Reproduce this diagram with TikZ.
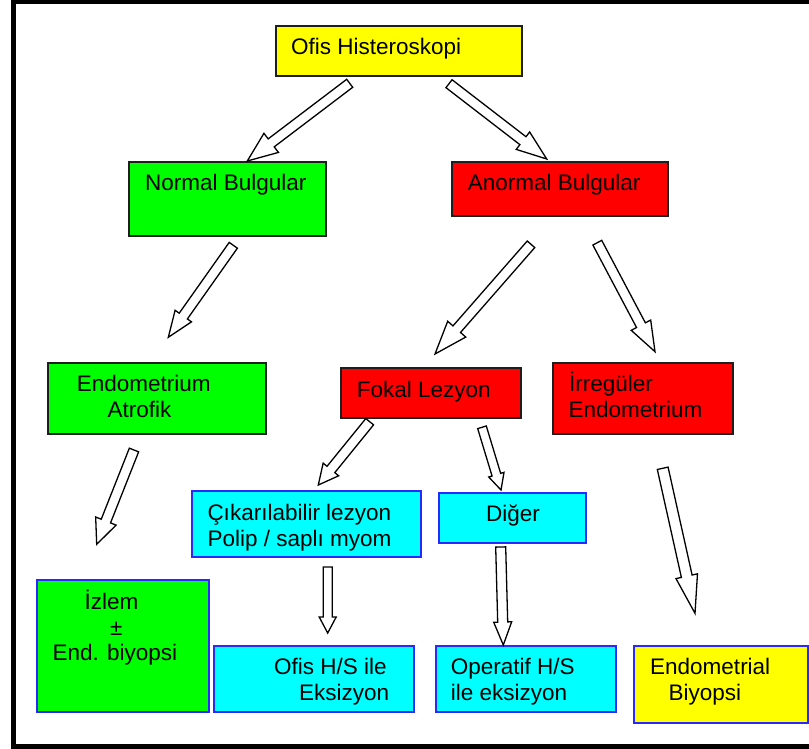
\documentclass[tikz,border=0pt]{standalone}
\usepackage{fontspec}
\setmainfont{Liberation Sans}
\usetikzlibrary{calc}
\definecolor{yel}{RGB}{255,255,0}
\definecolor{grn}{RGB}{0,255,0}
\definecolor{rd}{RGB}{255,0,0}
\definecolor{cyn}{RGB}{0,255,255}
\definecolor{blu}{RGB}{40,40,255}
\definecolor{dk}{RGB}{30,30,30}
% #1 prefix, #2 half shaft width, #3 half head width, #4 head length
\newcommand{\blockarrow}[4]{%
  \coordinate (#1h) at ($(#1e)!#4pt!(#1s)$);
  \draw[blockarrowstyle] ($(#1s)!#2pt!90:(#1e)$) -- ($(#1h)!#2pt!90:(#1e)$) -- ($(#1h)!#3pt!90:(#1e)$) -- (#1e)
    -- ($(#1h)!#3pt!-90:(#1e)$) -- ($(#1h)!#2pt!-90:(#1e)$) -- ($(#1s)!#2pt!-90:(#1e)$) -- cycle;
}
\tikzset{
  boxk/.style={draw=dk, line width=1.5pt, anchor=north west, inner sep=0pt, outer sep=0pt},
  boxb/.style={draw=blu, line width=1.5pt, anchor=north west, inner sep=0pt, outer sep=0pt},
  txt/.style={anchor=base west, inner sep=0pt, font=\fontsize{22.5pt}{26pt}\selectfont},
  blockarrowstyle/.style={draw=black, fill=white, line width=1.3pt, line join=miter},
}
\begin{document}
\begin{tikzpicture}[x=1pt,y=-1pt]
\useasboundingbox (0,0) rectangle (809,749);
\fill[white] (0,0) rectangle (809,749);
\draw[line width=5pt] (13.5,2) rectangle (840,746);

% boxes
\node[boxk, fill=yel, minimum width=246pt, minimum height=50pt] (ofis) at (276,26) {};
\node[boxk, fill=grn, minimum width=197pt, minimum height=74pt] (normal) at (129,162) {};
\node[boxk, fill=rd, minimum width=216pt, minimum height=54pt] (anormal) at (452,162) {};
\node[boxk, fill=grn, minimum width=218pt, minimum height=71pt] (atrofik) at (48,363) {};
\node[boxk, fill=rd, minimum width=180pt, minimum height=50pt] (fokal) at (341,368) {};
\node[boxk, fill=rd, minimum width=180pt, minimum height=71pt] (irreg) at (553,363) {};
\node[boxb, fill=cyn, minimum width=229pt, minimum height=66pt] (cikar) at (192,491) {};
\node[boxb, fill=cyn, minimum width=147pt, minimum height=50pt] (diger) at (439,493) {};
\node[boxb, fill=grn, minimum width=172pt, minimum height=132pt] (izlem) at (37,580) {};
\node[boxb, fill=cyn, minimum width=200pt, minimum height=66pt] (ofishs) at (214,646) {};
\node[boxb, fill=cyn, minimum width=180pt, minimum height=66pt] (operatif) at (436,646) {};
\node[boxb, fill=yel, minimum width=174pt, minimum height=77pt] (endobiy) at (634,646) {};

% texts
\node[txt] (t1) at (291,55) {Ofis Histeroskopi};
\node[txt] (t2) at (145,190.7) {Normal Bulgular};
\node[txt] (t3) at (467.7,190.7) {Anormal Bulgular};
\node[txt] (t4a) at (76.7,391.7) {Endometrium};
\node[txt] (t4b) at (107.3,417.7) {Atrofik};
\node[txt] (t5) at (356.7,397.7) {Fokal Lezyon};
\node[txt] (t6a) at (569,391.7) {İrregüler};
\node[txt] (t6b) at (568.3,417.7) {Endometrium};
\node[txt] (t7a) at (207.3,520) {Çıkarılabilir lezyon};
\node[txt] (t7b) at (207.3,546) {Polip / saplı myom};
\node[txt] (t8) at (486,521.7) {Diğer};
\node[txt] (t9a) at (84.3,609.3) {İzlem};
\node[txt] (t9b) at (110,635) {±};
\node[txt] (t9c) at (52.3,660) {End. biyopsi};
\node[txt] (t10a) at (274,674.3) {Ofis H/S ile};
\node[txt] (t10b) at (299,700) {Eksizyon};
\node[txt] (t11a) at (450.7,674.3) {Operatif H/S};
\node[txt] (t11b) at (450.7,700) {ile eksizyon};
\node[txt] (t12a) at (650,674.3) {Endometrial};
\node[txt] (t12b) at (668.3,700) {Biyopsi};

% arrow end points
\coordinate (a1s) at (349.7,83.3);  \coordinate (a1e) at (247.3,161);
\coordinate (a2s) at (449,83.7);    \coordinate (a2e) at (546.7,159);
\coordinate (a3s) at (233.3,245.3); \coordinate (a3e) at (168.3,337.3);
\coordinate (a4s) at (531,244.3);   \coordinate (a4e) at (435,354);
\coordinate (a5s) at (597.3,242.7); \coordinate (a5e) at (655,351.7);
\coordinate (a6s) at (134,450);     \coordinate (a6e) at (96.7,544.3);
\coordinate (a7s) at (369.7,421.7); \coordinate (a7e) at (318.3,485);
\coordinate (a8s) at (482,427.3);   \coordinate (a8e) at (501,490);
\coordinate (a9s) at (327.7,567);   \coordinate (a9e) at (327.7,633);
\coordinate (a10s) at (500.7,547);  \coordinate (a10e) at (503.3,645);
\coordinate (a11s) at (662.7,468.3); \coordinate (a11e) at (695,613.3);

\blockarrow{a1}{5}{12}{30}
\blockarrow{a2}{5}{11}{30}
\blockarrow{a3}{5}{10}{26}
\blockarrow{a4}{5}{12}{33}
\blockarrow{a5}{5}{11}{30}
\blockarrow{a6}{5}{11}{25}
\blockarrow{a7}{5}{10}{20}
\blockarrow{a8}{4.5}{8}{16}
\blockarrow{a9}{4.5}{8.5}{16}
\blockarrow{a10}{5}{9}{23}
\blockarrow{a11}{5.5}{11}{38}
\end{tikzpicture}
\end{document}
